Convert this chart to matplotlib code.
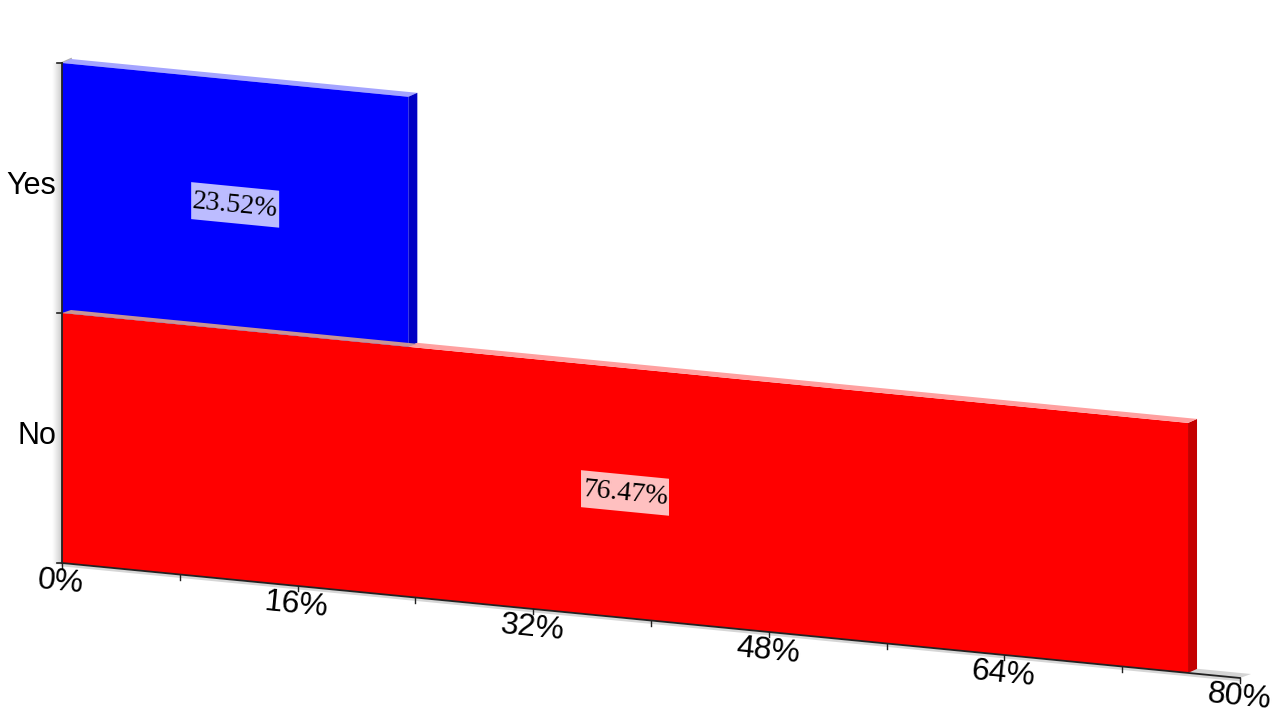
import numpy as np
import matplotlib.pyplot as plt
from matplotlib.transforms import Affine2D, IdentityTransform
from matplotlib.patches import Polygon, Rectangle

# data
categories = ['No', 'Yes']
shares = [76.47, 23.52]
x_ticks = [0, 16, 32, 48, 64, 80]
minor_ticks = [8, 24, 40, 56, 72]

front_colors = ['#FF0000', '#0000FF']
side_colors = ['#C40000', '#0000C4']
top_colors = ['#FFA0A0', '#A4A4FF']
label_bg = ['#FFC0C0', '#BCBCFF']

fig = plt.figure(figsize=(12.8, 7.2), dpi=100)
ax = fig.add_axes([62 / 1280, 157 / 720, 1178 / 1280, 500 / 720])
ax.set_xlim(0, 80)
ax.set_ylim(0, 2)
ax.set_autoscale_on(False)
ax.axis('off')

# fake perspective: shear the value axis downwards, extrude faces by a pixel offset
shear = Affine2D(np.array([[1, 0, 0], [-0.00575, 1, 0], [0, 0, 1]]))
tr = shear + ax.transData
DEPTH = np.array([9, 4])
pix = IdentityTransform()

# pixel -> data unit sizes (for the label boxes)
px_x = 80 / 1178
px_y = 2 / 500


def face(front_pts, color, z, depth=DEPTH):
    '''Extrude an edge given in data coords backwards and draw it as a polygon.'''
    p = tr.transform(front_pts)
    back = p[::-1] + depth
    poly = Polygon(np.vstack([p, back]), closed=True, fc=color, ec='none',
                   transform=pix, zorder=z, clip_on=False)
    ax.add_patch(poly)


# floor
face([(0, 0), (80, 0)], '#D4D4D4', 1, depth=np.array([11, 4]))

# left wall shading
y0 = tr.transform((0, 0))
y1 = tr.transform((0, 2))
for i in range(10):
    g = 0.78 + i * 0.022
    ax.plot([y0[0] - i, y1[0] - i], [y0[1], y1[1]], color=(g, g, g),
            lw=1, transform=pix, zorder=1, clip_on=False)
ax.plot([y1[0], y1[0] + DEPTH[0]], [y1[1], y1[1] + DEPTH[1]], color='#B0B0B0',
        lw=1.5, transform=pix, zorder=1, clip_on=False)

ypos = np.arange(len(categories)) + 0.5

# Yes bar first, the No bar's top face lies over its lower edge
yes = 1
face([(0, 2), (shares[yes], 2)], top_colors[yes], 3)
face([(shares[yes], 1), (shares[yes], 2)], side_colors[yes], 3)
ax.barh(ypos[yes], shares[yes], height=1.0, color=front_colors[yes],
        transform=tr, zorder=4, clip_on=False)

no = 0
ax.barh(ypos[no], shares[no], height=1.0, color=front_colors[no],
        transform=tr, zorder=5, clip_on=False)
face([(shares[no], 0), (shares[no], 1)], side_colors[no], 5)
face([(0, 1), (shares[yes], 1)], '#C89494', 6, depth=np.array([9, 3]))
face([(shares[yes], 1), (shares[no], 1)], top_colors[no], 5)

# axis lines
ax.plot([0, 0], [0, 2], color='#222222', lw=1.3, transform=tr, zorder=7, clip_on=False)
ax.plot([0, 80], [0, 0], color='#222222', lw=1.3, transform=tr, zorder=7, clip_on=False)
ax.plot([0, 80], [0, 0], color='#BBBBBB', lw=2, alpha=0.6,
        transform=tr + Affine2D().translate(0, -2), zorder=6, clip_on=False)

for u in [0, 1, 2]:
    p = tr.transform((0, u))
    ax.plot([p[0] - 5, p[0]], [p[1], p[1]], color='#222222', lw=1.2,
            transform=pix, zorder=7, clip_on=False)
for v in x_ticks + minor_ticks:
    p = tr.transform((v, 0))
    ax.plot([p[0], p[0]], [p[1], p[1] - 5], color='#222222', lw=1,
            transform=pix, zorder=7, clip_on=False)

# tick labels
for v in x_ticks:
    ax.text(v, 0, f'{v}%', transform=tr + Affine2D().translate(-1, -19),
            ha='center', va='center', fontsize=23, family='Liberation Sans',
            rotation=-5.6, rotation_mode='anchor', zorder=8)

for i, cat in enumerate(categories):
    ax.text(0, ypos[i], cat, transform=tr + Affine2D().translate(-6, 2),
            ha='right', va='center', fontsize=22, family='Liberation Sans', zorder=8)

# value labels on a sheared light box
box_w = 88 * px_x
box_h = 37 * px_y
for i, v in enumerate(shares):
    ax.add_patch(Rectangle((v / 2 - box_w / 2, ypos[i] - box_h / 2), box_w, box_h,
                           fc=label_bg[i], ec='none', transform=tr, zorder=8,
                           clip_on=False))
    ax.text(v / 2, ypos[i], f'{v:.2f}%', transform=tr + Affine2D().translate(0, -1),
            ha='center', va='center', fontsize=20, family='Liberation Serif',
            rotation=-5.6, rotation_mode='anchor', zorder=9)

fig.savefig('out.png', dpi=100)
